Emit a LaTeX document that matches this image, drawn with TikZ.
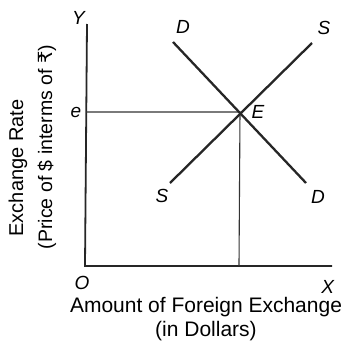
\documentclass[tikz,border=0pt]{standalone}
\usepackage{fontspec}
\setmainfont{Liberation Sans}
\newfontfamily\rupeefont{DejaVu Sans}
\usetikzlibrary{positioning}

\begin{document}
\begin{tikzpicture}[
  x=1pt, y=-1pt,
  axis/.style={line width=1.8pt, black!85},
  curve/.style={line width=2.3pt, black!85},
  guide/.style={line width=1.1pt, black!80},
  every node/.style={font=\fontsize{19}{21}\selectfont, inner sep=1pt}
]
  \useasboundingbox (0,0) rectangle (346,343);

  % axes and equilibrium point
  \coordinate (O) at (85,266);
  \coordinate (ytop) at (87,24);
  \coordinate (xend) at (332,266);
  \coordinate (E) at (240,112);
  \coordinate (eax) at (86,112);
  \coordinate (Efoot) at (239,266);

  % demand and supply ends
  \coordinate (dtop) at (173,42);
  \coordinate (dbot) at (306,183);
  \coordinate (sbot) at (170,183);
  \coordinate (stop) at (312,43);

  \draw[axis] (ytop) -- (O) -- (xend);
  \draw[guide] (eax) -- (E) -- (Efoot);
  \draw[curve] (dtop) -- (dbot);
  \draw[curve] (sbot) -- (stop);

  \node (labY) at (79,18) {\textit{Y}};
  \node (labO) at (82,283) {\textit{O}};
  \node (labX) at (328,287) {\textit{X}};
  \node (labe) at (76,112) {\textit{e}};
  \node (labE) at (258,112) {\textit{E}};
  \node (labD1) at (183,27) {\textit{D}};
  \node (labS1) at (324,28) {\textit{S}};
  \node (labS2) at (162,196) {\textit{S}};
  \node (labD2) at (318,197) {\textit{D}};

  \node[font=\fontsize{21}{23}\selectfont] (xlab1) at (206,307) {Amount of Foreign Exchange};
  \node[font=\fontsize{21}{23}\selectfont] (xlab2) at (206,331) {(in Dollars)};
  \node[rotate=90, font=\fontsize{20}{22}\selectfont] (ylab1) at (18,168) {Exchange Rate};
  \node[rotate=90, font=\fontsize{19.5}{21}\selectfont] (ylab2) at (47,147) {(Price of \$ interms of {\rupeefont ₹})};
\end{tikzpicture}
\end{document}
